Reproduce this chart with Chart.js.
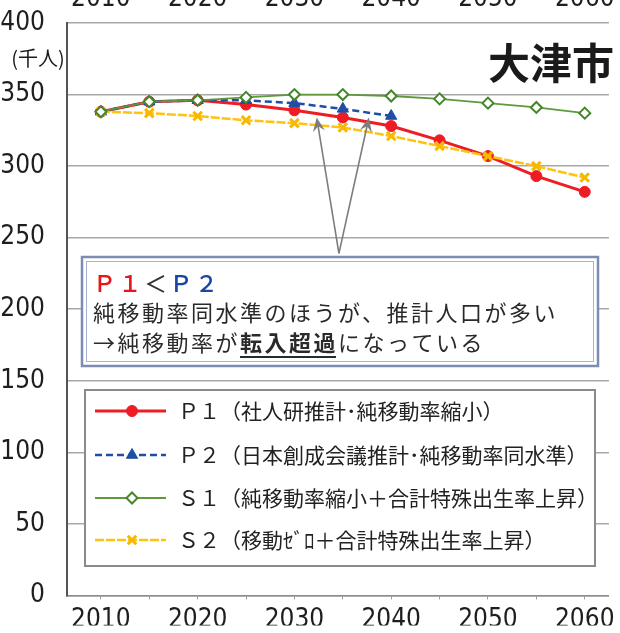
<!DOCTYPE html>
<html>
<head>
<meta charset="utf-8">
<script src="https://cdn.jsdelivr.net/npm/chart.js@4.4.0/dist/chart.umd.min.js"></script>
<style>
    html, body { margin: 0; padding: 0; background: #fff; }
    #wrap { position: relative; width: 620px; height: 633px; overflow: hidden; }
    #chart { position: absolute; left: 0; top: -30px; }
</style>
</head>
<body>
<div id="wrap"><canvas id="chart" width="620" height="663"></canvas></div>
<script>
// chart values (千人)
const years = [2010, 2015, 2020, 2025, 2030, 2035, 2040, 2045, 2050, 2055, 2060];
const p1 = [338, 345, 346, 343, 339, 334, 328, 318, 307, 293, 282];
const p2 = [338, 345, 346, 346, 344, 340, 335];
const s1 = [338, 345, 346, 348, 350, 350, 349, 347, 344, 341, 337];
const s2 = [338, 337, 335, 332, 330, 327, 321, 314, 307, 300, 292];

const seriesLabels = [
    'Ｐ１（社人研推計･純移動率縮小）',
    'Ｐ２（日本創成会議推計･純移動率同水準）',
    'Ｓ１（純移動率縮小＋合計特殊出生率上昇）',
    'Ｓ２（移動ｾﾞﾛ＋合計特殊出生率上昇）'
];
const yTicks = [0, 50, 100, 150, 200, 250, 300, 350, 400];
const xLabels = [2010, 2020, 2030, 2040, 2050, 2060];

const OFF = 30; // canvas is shifted up so the top year labels get cut
const numFont = '"Liberation Sans Narrow", "DejaVu Sans Condensed", "Liberation Sans", sans-serif';
const jpFont = '"Noto Sans CJK JP", sans-serif';

const toPoints = vals => vals.map((v, i) => ({x: years[i], y: v}));

// legend, note box, arrows, title
const overlay = {
    id: 'overlay',
    afterDatasetsDraw(chart) {
        const ctx = chart.ctx;
        const xs = chart.scales.x;
        const ys = chart.scales.y;
        ctx.save();

        // arrows (anchored in data space)
        const base = [xs.getPixelForValue(2034.6), ys.getPixelForValue(239)];
        [[2032.3, 334], [2037.7, 334]].forEach(t => {
            drawArrow(ctx, base[0], base[1], xs.getPixelForValue(t[0]), ys.getPixelForValue(t[1]));
        });

        ctx.translate(0, OFF);

        // note box
        ctx.fillStyle = '#fff';
        ctx.fillRect(82, 257, 516, 109);
        ctx.strokeStyle = '#7b8db3';
        ctx.lineWidth = 2.5;
        ctx.strokeRect(82, 257, 516, 109);
        ctx.strokeStyle = '#a7b3cc';
        ctx.lineWidth = 1;
        ctx.strokeRect(86.5, 261.5, 507, 100);

        ctx.textBaseline = 'middle';
        ctx.textAlign = 'left';
        ctx.letterSpacing = '2.5px';
        let x = 93;
        ctx.font = '500 23px ' + jpFont;
        [['Ｐ１', '#e8151c'], ['＜', '#333'], ['Ｐ２', '#1c46a3']].forEach(seg => {
            ctx.fillStyle = seg[1];
            ctx.fillText(seg[0], x, 283);
            x += ctx.measureText(seg[0]).width;
        });
        ctx.font = '22px ' + jpFont;
        ctx.fillStyle = '#2a2a2a';
        ctx.fillText('純移動率同水準のほうが、推計人口が多い', 93, 313);
        x = 93;
        ctx.fillText('→純移動率が', x, 343);
        x += ctx.measureText('→純移動率が').width;
        ctx.font = 'bold 22px ' + jpFont;
        ctx.fillText('転入超過', x, 343);
        const w = ctx.measureText('転入超過').width;
        ctx.fillRect(x, 356, w - 2, 2);
        x += w;
        ctx.font = '22px ' + jpFont;
        ctx.fillText('になっている', x, 343);
        ctx.letterSpacing = '0px';

        // legend box
        ctx.fillStyle = '#fff';
        ctx.fillRect(85, 390, 510, 176);
        ctx.strokeStyle = '#8a8a8a';
        ctx.lineWidth = 2;
        ctx.strokeRect(85, 390, 510, 176);

        const rows = [411, 455, 498, 540];
        chart.data.datasets.forEach((ds, i) => {
            const y = rows[i];
            ctx.save();
            ctx.strokeStyle = ds.borderColor;
            ctx.lineWidth = ds.borderWidth;
            ctx.setLineDash(ds.borderDash || []);
            ctx.beginPath();
            ctx.moveTo(95, y);
            ctx.lineTo(166, y);
            ctx.stroke();
            ctx.setLineDash([]);
            ctx.fillStyle = ds.pointBackgroundColor;
            ctx.strokeStyle = ds.pointBorderColor;
            ctx.lineWidth = ds.pointBorderWidth;
            Chart.helpers.drawPoint(ctx, {
                pointStyle: ds.pointStyle,
                radius: ds.pointRadius,
                rotation: 0,
                borderWidth: ds.pointBorderWidth
            }, 132, y);
            ctx.restore();
            ctx.fillStyle = '#222';
            ctx.font = '21px ' + jpFont;
            ctx.textBaseline = 'middle';
            ctx.fillText(ds.label, 178, y);
        });

        ctx.restore();
    },
    afterDraw(chart) {
        const ctx = chart.ctx;
        ctx.save();
        ctx.translate(0, OFF);
        ctx.fillStyle = '#1a1a1a';
        ctx.textBaseline = 'middle';
        ctx.textAlign = 'right';
        ctx.font = 'bold 42px ' + jpFont;
        ctx.fillText('大津市', 614, 63);
        ctx.textAlign = 'center';
        ctx.font = '20px ' + jpFont;
        ctx.fillText('(千人)', 38, 58);
        ctx.restore();
    }
};

function drawArrow(ctx, x0, y0, x1, y1) {
    const len = Math.hypot(x1 - x0, y1 - y0);
    const ux = (x1 - x0) / len, uy = (y1 - y0) / len;
    const nx = -uy, ny = ux;
    ctx.strokeStyle = '#7d7d7d';
    ctx.fillStyle = '#7d7d7d';
    ctx.lineWidth = 1.6;
    ctx.beginPath();
    ctx.moveTo(x0, y0);
    ctx.lineTo(x1 - ux * 8, y1 - uy * 8);
    ctx.stroke();
    ctx.beginPath();
    ctx.moveTo(x1, y1);
    ctx.lineTo(x1 - ux * 14 + nx * 6, y1 - uy * 14 + ny * 6);
    ctx.lineTo(x1 - ux * 9, y1 - uy * 9);
    ctx.lineTo(x1 - ux * 14 - nx * 6, y1 - uy * 14 - ny * 6);
    ctx.closePath();
    ctx.fill();
}

const tickFont = {family: numFont, size: 26};

new Chart(document.getElementById('chart'), {
    type: 'line',
    data: {
        datasets: [
            {
                label: seriesLabels[0],
                data: toPoints(p1),
                borderColor: '#ee1c23',
                borderWidth: 3,
                pointStyle: 'circle',
                pointRadius: 5.5,
                pointBackgroundColor: '#ee1c23',
                pointBorderColor: '#ee1c23',
                pointBorderWidth: 1,
                order: 4
            },
            {
                label: seriesLabels[1],
                data: toPoints(p2),
                borderColor: '#1f4ea6',
                borderWidth: 2.5,
                borderDash: [7, 4],
                pointStyle: 'triangle',
                pointRadius: 6.5,
                pointBackgroundColor: '#1f4ea6',
                pointBorderColor: '#1f4ea6',
                pointBorderWidth: 1,
                order: 3
            },
            {
                label: seriesLabels[2],
                data: toPoints(s1),
                borderColor: '#5e9a3d',
                borderWidth: 1.8,
                pointStyle: 'rectRot',
                pointRadius: 5.5,
                pointBackgroundColor: '#ffffff',
                pointBorderColor: '#45862a',
                pointBorderWidth: 2,
                order: 1
            },
            {
                label: seriesLabels[3],
                data: toPoints(s2),
                borderColor: '#ffc20e',
                borderWidth: 2.5,
                borderDash: [9, 2],
                pointStyle: 'crossRot',
                pointRadius: 6,
                pointBackgroundColor: '#f6b800',
                pointBorderColor: '#f6b800',
                pointBorderWidth: 3,
                order: 2
            }
        ]
    },
    options: {
        responsive: false,
        animation: false,
        devicePixelRatio: 1,
        layout: {padding: {left: 0, right: 10, top: 0, bottom: 0}},
        elements: {line: {tension: 0}},
        plugins: {
            legend: {display: false},
            tooltip: {enabled: false}
        },
        scales: {
            x: {
                type: 'linear',
                position: 'bottom',
                min: 2006.5,
                max: 2062.5,
                afterBuildTicks: s => { s.ticks = years.map(v => ({value: v})); },
                afterFit: s => { s.height = 30; },
                grid: {drawOnChartArea: false, drawTicks: true, tickLength: 4, color: '#999', lineWidth: 1},
                border: {color: '#8c8c8c', width: 1.5},
                ticks: {
                    autoSkip: false,
                    maxRotation: 0,
                    padding: 5,
                    color: '#1e1e1e',
                    font: tickFont,
                    callback: v => xLabels.includes(v) ? String(v) : ''
                }
            },
            xTop: {
                type: 'linear',
                display: true,
                position: 'top',
                min: 2006.5,
                max: 2062.5,
                afterBuildTicks: s => { s.ticks = xLabels.map(v => ({value: v})); },
                afterFit: s => { s.height = 23 + OFF; },
                grid: {display: false},
                border: {display: false},
                ticks: {display: true, autoSkip: false, maxRotation: 0, padding: 0, color: '#1e1e1e', font: tickFont, callback: v => String(v)}
            },
            y: {
                min: 0,
                max: 400,
                afterBuildTicks: s => { s.ticks = yTicks.map(v => ({value: v})); },
                afterFit: s => { s.width = 67; },
                grid: {color: '#a8a8a8', lineWidth: 1.5, drawTicks: false},
                border: {color: '#555', width: 2},
                ticks: {padding: 22, color: '#1e1e1e', font: tickFont}
            }
        }
    },
    plugins: [overlay]
});
</script>
</body>
</html>
